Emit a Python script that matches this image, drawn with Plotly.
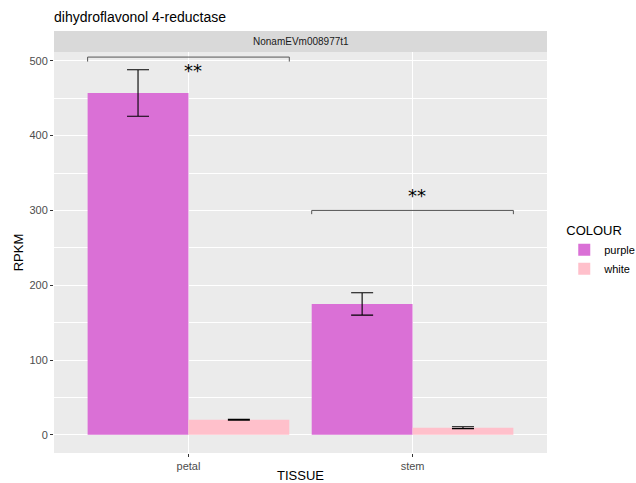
import plotly.graph_objects as go

# ---- data ----
tissues = ["petal", "stem"]
colours = ["purple", "white"]
rpkm_purple = [457, 175]
se_purple = [31, 15]
rpkm_white = [20, 9.5]
se_white = [0.6, 1.2]
sig_labels = ["**", "**"]
bracket_y = [505, 300]
bracket_drop = [6, 5]
star_y = [487, 320]
gene = "NonamEVm008977t1"
title = "dihydroflavonol 4-reductase"

bar_colors = {"purple": "#DA70D6", "white": "#FFC0CB"}
xpos = list(range(len(tissues)))

fig = go.Figure()
for name, vals, errs in [("purple", rpkm_purple, se_purple), ("white", rpkm_white, se_white)]:
    fig.add_trace(go.Bar(
        x=xpos, y=vals, name=name,
        marker=dict(color=bar_colors[name], line=dict(width=0)),
        error_y=dict(type="data", array=errs, visible=True, color="black",
                     thickness=1.1, width=11),
    ))

# significance brackets and stars
half = 0.45
for i, (by, dr, sy, lab) in enumerate(zip(bracket_y, bracket_drop, star_y, sig_labels)):
    fig.add_trace(go.Scatter(
        x=[xpos[i] - half, xpos[i] - half, xpos[i] + half, xpos[i] + half],
        y=[by - dr, by, by, by - dr], mode="lines",
        line=dict(color="#555555", width=1), showlegend=False, hoverinfo="skip"))
    fig.add_annotation(x=xpos[i] + 0.02, y=sy, text=lab, showarrow=False,
                       font=dict(size=18, color="black", family="DejaVu Sans"),
                       xref="x", yref="y")

# facet strip
strip_h = 21 / 401
fig.add_shape(type="rect", xref="paper", yref="paper", x0=0, x1=1, y0=1, y1=1 + strip_h,
              fillcolor="#D9D9D9", line=dict(width=0), layer="below")
fig.add_annotation(x=0.5, y=1 + strip_h / 2, xref="paper", yref="paper", text=gene,
                   showarrow=False, font=dict(size=10, color="#1A1A1A"), yanchor="middle")

fig.update_layout(
    width=636, height=483,
    margin=dict(l=54, r=89, t=52, b=30, autoexpand=False),
    paper_bgcolor="white", plot_bgcolor="#EBEBEB",
    font=dict(family="Liberation Sans, Arial, sans-serif", color="black"),
    barmode="group", bargap=0.1, bargroupgap=0,
    title=dict(text=title, x=54 / 636, xref="container", xanchor="left",
               y=1 - 17 / 483, yref="container", yanchor="middle",
               font=dict(size=14, color="black")),
    legend=dict(title=dict(text="COLOUR", font=dict(size=13)), x=1.035, xanchor="left",
                y=0.585, yanchor="top", font=dict(size=11), bgcolor="white",
                tracegroupgap=2),
    xaxis=dict(range=[-0.6, 1.6], tickvals=xpos, ticktext=tissues,
               showgrid=True, gridcolor="white", gridwidth=1.1, zeroline=False,
               ticks="outside", ticklen=3, tickcolor="#333333",
               tickfont=dict(size=11, color="#4D4D4D"),
               title=dict(text="TISSUE", font=dict(size=13), standoff=2)),
    yaxis=dict(range=[-24.3, 511.8], tickvals=[0, 100, 200, 300, 400, 500],
               showgrid=True, gridcolor="white", gridwidth=1.1, zeroline=False,
               minor=dict(tickvals=[50, 150, 250, 350, 450], showgrid=True,
                          gridcolor="white", gridwidth=0.5),
               ticks="outside", ticklen=3, tickcolor="#333333",
               tickfont=dict(size=11, color="#4D4D4D"),
               title=dict(text="RPKM", font=dict(size=13), standoff=2)),
)

fig.write_html("out.html", config={"displayModeBar": False},
               post_script="document.body.style.margin='0';")
